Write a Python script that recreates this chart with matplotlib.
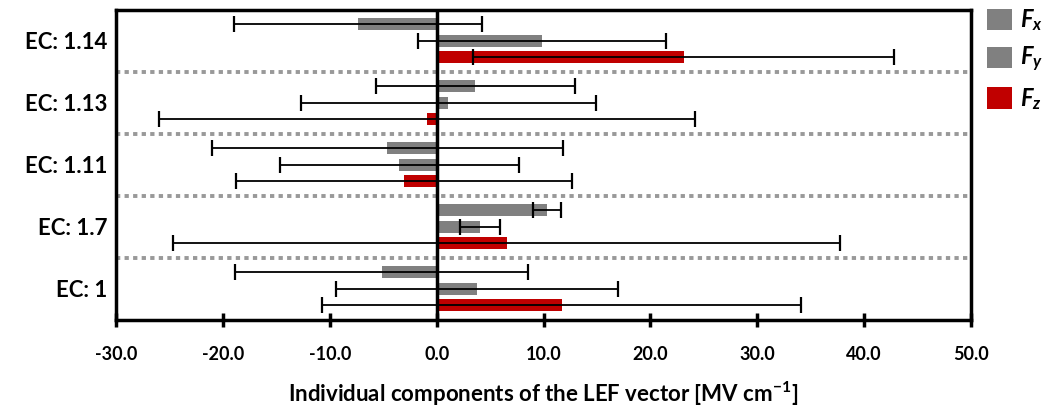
import numpy as np
import matplotlib
matplotlib.use('Agg')
import matplotlib.pyplot as plt

plt.rcParams['font.family'] = 'Lato'
plt.rcParams['font.weight'] = 'bold'
plt.rcParams['axes.labelweight'] = 'bold'
plt.rcParams['mathtext.fontset'] = 'custom'
plt.rcParams['mathtext.rm'] = 'Lato:bold'
plt.rcParams['mathtext.it'] = 'Lato:bold:italic'
plt.rcParams['mathtext.bf'] = 'Lato:bold'

# groups, bottom to top
groups = ['EC: 1', 'EC: 1.7', 'EC: 1.11', 'EC: 1.13', 'EC: 1.14']
fx = [-5.15, 10.3, -4.6, 3.6, -7.4]
fx_err = [13.7, 1.3, 16.4, 9.3, 11.6]
fy = [3.8, 4.05, -3.5, 1.1, 9.9]
fy_err = [13.2, 1.9, 11.2, 13.8, 11.6]
fz = [11.7, 6.55, -3.06, -0.9, 23.1]
fz_err = [22.4, 31.2, 15.7, 25.1, 19.7]

series_labels = ['$F_x$', '$F_y$', '$F_z$']
colors = ['#808080', '#808080', '#C00000']

fig = plt.figure(figsize=(10.5, 4.16), dpi=100)
ax = fig.add_axes([0.1105, 0.2308, 0.8143, 0.7452])

y = np.arange(len(groups))
offsets = [0.27, 0.0, -0.26]
h = 0.2
err_kw = dict(ecolor='black', elinewidth=1.3, capsize=6, capthick=1.6)

for vals, errs, off, col, lab in zip([fx, fy, fz], [fx_err, fy_err, fz_err],
                                     offsets, colors, series_labels):
    ax.barh(y + off, vals, height=h, color=col, xerr=errs,
            error_kw=err_kw, label=lab, zorder=2)

# group separators
for s in y[:-1] + 0.5:
    ax.axhline(s, color='#999999', lw=2.8, dashes=(1.1, 1.1), zorder=1)

ax.axvline(0, color='black', lw=2.5, zorder=3)

ax.set_xlim(-30, 50)
ax.set_ylim(-0.5, len(groups) - 0.5)
ax.set_xticks(np.arange(-30, 51, 10))
ax.set_xticklabels(['%.1f' % v for v in np.arange(-30, 51, 10)], fontsize=13)
ax.set_yticks(y)
ax.set_yticklabels(groups, fontsize=16)
ax.tick_params(axis='y', length=0, pad=6)
ax.tick_params(axis='x', direction='inout', length=10, width=2.5, pad=14)

for sp in ax.spines.values():
    sp.set_linewidth(2.5)

ax.set_xlabel('Individual components of the LEF vector [MV cm$^{-1}$]',
              fontsize=16, labelpad=12)

fig.legend(loc='upper left', bbox_to_anchor=(0.94, 0.982), frameon=False,
           fontsize=17, handlelength=1.05, handleheight=1.0, labelspacing=0.5,
           handletextpad=0.35, borderpad=0, borderaxespad=0)

fig.savefig('out.png', dpi=100)
